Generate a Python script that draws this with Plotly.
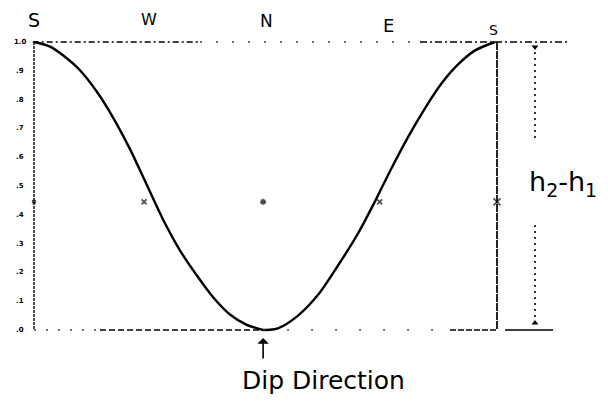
import plotly.graph_objects as go

# Relative elevation of a dipping bed traced around the compass (S -> W -> N -> E -> S)
azimuth_deg = [0, 12.5, 22.9, 35.9, 49.0, 62.0, 75.0, 88.0, 101.0, 114.1, 127.1,
               140.1, 153.1, 166.2, 176.6, 179.0, 190.6, 206.3, 221.9, 237.5, 253.1,
               266.2, 279.1, 292.2, 305.2, 318.2, 331.3, 344.3, 360]
rel_height = [1.0, 0.984, 0.953, 0.902, 0.828, 0.736, 0.628, 0.505, 0.382, 0.276, 0.190,
              0.113, 0.054, 0.018, 0.003, 0.0, 0.006, 0.050, 0.122, 0.224, 0.335,
              0.445, 0.560, 0.670, 0.768, 0.855, 0.922, 0.970, 1.0]

compass_labels = ["S", "W", "N", "E", "S"]

tick_values = [1.0, 0.9, 0.8, 0.7, 0.6, 0.5, 0.4, 0.3, 0.2, 0.1, 0.0]
mid_level = 0.445
mid_marks_az = [0, 86, 179, 270, 361.7]

W, H = 608, 403
PX_PER_DEG = 1.28
PX_PER_UNIT = 288.0
X0_PX, Y0_PX = 34, 330  # pixel position of azimuth 0 / height 0

x_min = -X0_PX / PX_PER_DEG
x_max = x_min + W / PX_PER_DEG
y_min = -(H - Y0_PX) / PX_PER_UNIT
y_max = y_min + H / PX_PER_UNIT


def pdx(xp):
    return (xp - X0_PX) / PX_PER_DEG


def pdy(yp):
    return (Y0_PX - yp) / PX_PER_UNIT


top = max(rel_height)
bottom = min(rel_height)
az_start, az_end = azimuth_deg[0], azimuth_deg[-1]
az_dip = azimuth_deg[rel_height.index(bottom)]

fig = go.Figure()

fig.add_trace(go.Scatter(
    x=azimuth_deg, y=rel_height, mode="lines",
    line=dict(color="black", width=2.4, shape="spline", smoothing=0.8),
    hoverinfo="skip", showlegend=False))

# small cross marks at the half-height level
fig.add_trace(go.Scatter(
    x=mid_marks_az, y=[mid_level] * len(mid_marks_az), mode="markers",
    marker=dict(symbol=["circle", "x-thin-open", "asterisk-open", "x-thin-open", "x-thin-open"],
                size=[3, 5, 5, 5, 7], color="black",
                line=dict(color="black", width=1.6)),
    hoverinfo="skip", showlegend=False))

shapes = []


def seg(x0, y0, x1, y1, dash, width=1.4, color="black"):
    shapes.append(dict(type="line", x0=x0, y0=y0, x1=x1, y1=y1, xref="x", yref="y",
                       line=dict(color=color, width=width, dash=dash)))


# top reference line (level h2)
seg(az_start - 1, top, pdx(200), top, "6px,3px,2px,3px", 1.4)
seg(pdx(200), top, pdx(420), top, "2px,14px", 1.4, "#444")
seg(pdx(420), top, pdx(570), top, "7px,3px,2px,3px", 1.4)
# bottom reference line (level h1)
seg(az_start, bottom, pdx(100), bottom, "2px,10px", 1.4, "#444")
seg(pdx(100), bottom, az_dip, bottom, "6px,3px", 1.4)
seg(az_dip, bottom, pdx(450), bottom, "2px,22px", 1.4, "#444")
seg(pdx(450), bottom, pdx(498), bottom, "6px,2px", 1.5)
seg(pdx(505), bottom, pdx(553), bottom, "solid", 1.7)
# verticals at both S ends
seg(az_start, top, az_start, bottom, "3px,1px", 1.4)
seg(pdx(497), top, pdx(497), bottom, "8px,1px", 1.7)
# dimension line for h2 - h1
seg(pdx(535), pdy(52), pdx(535), pdy(140), "2px,4px", 1.6)
seg(pdx(535), pdy(225), pdx(535), pdy(320), "2px,4px", 1.6)

fig.add_trace(go.Scatter(
    x=[pdx(535), pdx(535)], y=[pdy(47), pdy(323)], mode="markers",
    marker=dict(symbol=["triangle-down", "triangle-up"], size=6, color="black"),
    hoverinfo="skip", showlegend=False))

annotations = []
label_pos = [(34, 20, 19), (149, 19, 16), (266, 21, 17), (388, 25, 18), (493, 30, 14)]
for lab, (xp, yp, fs) in zip(compass_labels, label_pos):
    annotations.append(dict(x=pdx(xp), y=pdy(yp), xref="x", yref="y", text=lab,
                            showarrow=False, font=dict(family="DejaVu Sans", size=fs, color="black")))

for v in tick_values:
    annotations.append(dict(x=pdx(20), y=v, xref="x", yref="y",
                            text="<b>%s</b>" % ("%.1f" % v).lstrip("0"),
                            showarrow=False, font=dict(family="DejaVu Sans", size=7, color="black")))

annotations.append(dict(x=pdx(563), y=pdy(183), xref="x", yref="y",
                        text="h<sub>2</sub>-h<sub>1</sub>", showarrow=False,
                        font=dict(family="DejaVu Sans", size=27, color="black")))

annotations.append(dict(x=az_dip, y=pdy(338), xref="x", yref="y", text="",
                        showarrow=True, ax=0, ay=22, arrowhead=1, arrowsize=1.2,
                        arrowwidth=1.6, arrowcolor="black"))
annotations.append(dict(x=pdx(323), y=pdy(380), xref="x", yref="y", text="Dip Direction",
                        showarrow=False, font=dict(family="DejaVu Sans", size=25, color="black")))

fig.update_layout(
    width=W, height=H, margin=dict(l=0, r=0, t=0, b=0),
    paper_bgcolor="white", plot_bgcolor="white",
    xaxis=dict(range=[x_min, x_max], visible=False, fixedrange=True),
    yaxis=dict(range=[y_min, y_max], visible=False, fixedrange=True),
    shapes=shapes, annotations=annotations, showlegend=False)

fig.write_html("out.html")
